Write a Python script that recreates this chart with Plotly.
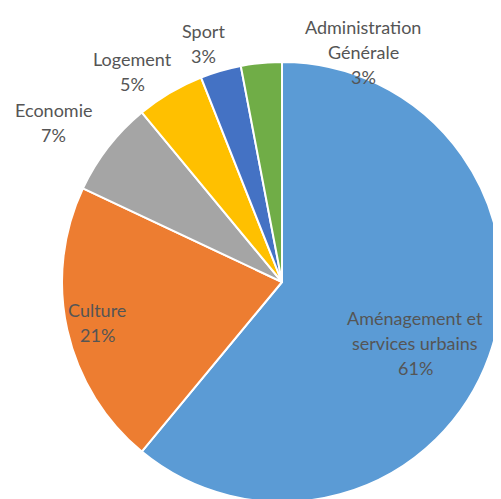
import plotly.graph_objects as go

categories = ["Aménagement et<br>services urbains", "Culture", "Economie", "Logement", "Sport", "Administration<br>Générale"]
values = [61, 21, 7, 5, 3, 3]
colors = ["#5B9BD5", "#ED7D31", "#A5A5A5", "#FFC000", "#4472C4", "#70AD47"]

# label anchor points (page pixel centres of the first line) for each category
label_px = [(415, 318), (97, 310), (53, 110), (132, 59), (203, 31), (363, 27)]
line_gap = 25

W, H = 501, 499
OFF = 8  # browser body margin

fig = go.Figure(go.Pie(
    labels=[c.replace("<br>", " ") for c in categories],
    values=values,
    marker=dict(colors=colors, line=dict(color="white", width=2)),
    sort=False,
    direction="clockwise",
    rotation=0,
    textinfo="none",
    hoverinfo="label+percent",
    showlegend=False,
    domain=dict(x=[54 / W, 494 / W], y=[1 - 494 / H, 1 - 54 / H]),
))

annotations = []
for cat, val, (px, py) in zip(categories, values, label_px):
    lines = cat.split("<br>") + [f"{val}%"]
    for i, ln in enumerate(lines):
        annotations.append(dict(
            x=(px - OFF) / W, y=1 - (py - OFF + i * line_gap) / H,
            xref="paper", yref="paper",
            text=ln, showarrow=False,
            xanchor="center", yanchor="middle",
            font=dict(family="Lato", size=18, color="#555555"),
        ))

fig.update_layout(
    width=W, height=H,
    margin=dict(l=0, r=0, t=0, b=0),
    paper_bgcolor="white",
    plot_bgcolor="white",
    annotations=annotations,
)

fig.write_html("out.html")
